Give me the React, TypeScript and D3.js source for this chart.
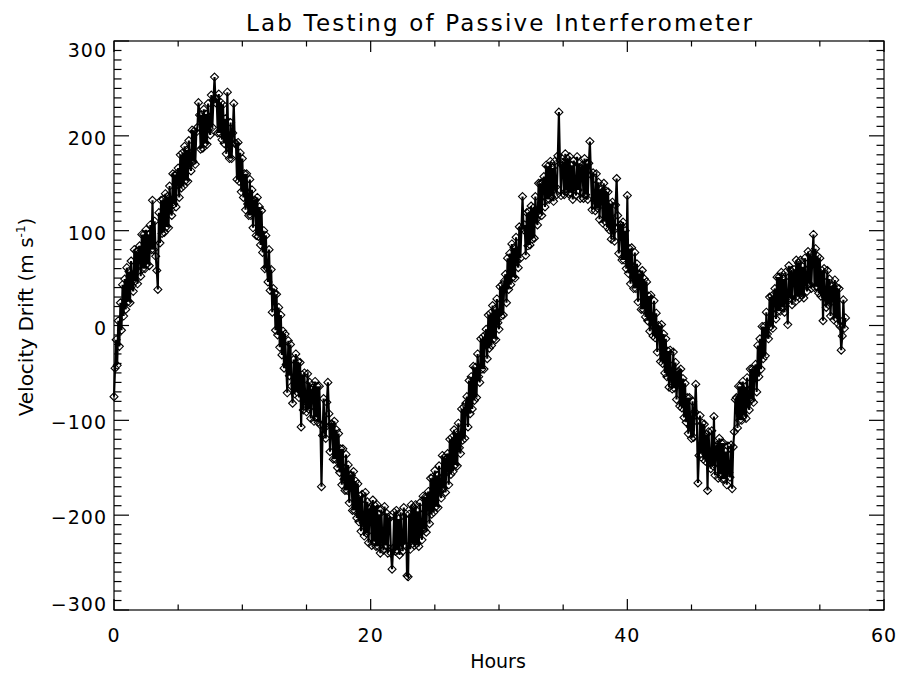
import React from "react";
import * as d3 from "d3";

const title = "Lab Testing of Passive Interferometer";
const xLabel = "Hours";
const yLabelMain = "Velocity Drift (m s";
const yLabelSup = "-1";
const xTickValues = [0, 20, 40, 60];
const yTickValues = [-300, -200, -100, 0, 100, 200, 300];
const startHour = 0;
const stepHours = 1 / 12;
const velocity = [
  -75, -45, -15, -42, 5, -22, 24, -5, 43, 10, 49, 17,
  61, 25, 57, 24, 68, 42, 36, 80, 47, 78, 44, 79,
  84, 52, 96, 60, 96, 60, 101, 65, 96, 63, 106, 80,
  132, 80, 110, 73, 58, 38, 119, 87, 132, 97, 133, 98,
  139, 104, 136, 103, 147, 122, 116, 160, 128, 159, 125, 160,
  166, 135, 180, 145, 182, 147, 189, 153, 185, 152, 195, 170,
  163, 206, 173, 205, 170, 204, 209, 235, 222, 186, 222, 187,
  228, 192, 223, 191, 234, 208, 201, 243, 209, 238, 262, 235,
  239, 203, 244, 203, 235, 196, 233, 192, 218, 181, 246, 188,
  176, 214, 176, 203, 234, 192, 192, 154, 193, 152, 182, 141,
  176, 135, 160, 122, 160, 128, 116, 154, 116, 143, 103, 132,
  132, 95, 135, 94, 125, 85, 121, 77, 100, 60, 95, 61,
  46, 80, 37, 59, 14, 39, 34, -5, 33, -10, 19, -23,
  11, -31, -6, -45, -9, -41, -71, -16, -53, -20, -64, -82,
  -36, -72, -30, -70, -38, -76, -39, -107, -52, -89, -50, -80,
  -91, -51, -88, -60, -98, -68, -66, -101, -59, -97, -64, -102,
  -64, -105, -170, -116, -77, -108, -119, -81, -60, -93, -133, -104,
  -104, -141, -101, -141, -110, -150, -114, -155, -130, -168, -130, -162,
  -174, -136, -174, -147, -187, -158, -158, -195, -154, -195, -164, -203,
  -167, -207, -180, -217, -178, -208, -222, -176, -219, -186, -229, -194,
  -192, -232, -184, -228, -190, -233, -189, -233, -199, -240, -194, -228,
  -237, -191, -232, -198, -240, -204, -201, -240, -257, -235, -197, -238,
  -195, -237, -204, -242, -197, -229, -238, -192, -231, -199, -264, -265,
  -199, -236, -189, -230, -192, -232, -189, -230, -196, -233, -187, -218,
  -226, -180, -215, -181, -218, -181, -175, -209, -161, -199, -160, -197,
  -153, -191, -158, -192, -148, -175, -182, -137, -172, -139, -176, -140,
  -135, -168, -120, -157, -118, -154, -110, -147, -113, -148, -103, -129,
  -135, -88, -121, -86, -119, -82, -75, -107, -58, -93, -54, -88,
  -43, -79, -44, -76, -30, -54, -60, -14, -46, -12, -46, -10,
  -4, -35, 11, -24, 13, -21, 21, -14, 17, -15, 28, 3,
  -4, 41, 10, 43, 11, 47, 54, 24, 71, 38, 76, 43,
  86, 51, 82, 50, 93, 68, 61, 104, 71, 102, 136, 101,
  106, 74, 119, 84, 120, 85, 126, 91, 124, 92, 136, 112,
  106, 150, 118, 150, 116, 151, 157, 125, 169, 133, 168, 133,
  173, 136, 166, 131, 173, 146, 138, 179, 225, 174, 137, 169,
  172, 138, 181, 142, 176, 139, 178, 140, 169, 133, 174, 146,
  137, 178, 143, 171, 134, 166, 169, 134, 176, 138, 171, 133,
  171, 194, 159, 122, 161, 132, 121, 160, 124, 151, 112, 143,
  144, 108, 150, 110, 142, 104, 141, 101, 128, 91, 130, 100,
  89, 127, 155, 116, 76, 106, 106, 69, 109, 69, 100, 60,
  137, 55, 81, 44, 82, 51, 39, 77, 39, 65, 25, 54,
  54, 17, 58, 17, 49, 9, 46, 5, 31, -6, 32, 1,
  -11, 26, -13, 13, -28, 0, -1, -38, 1, -40, -9, -50,
  -14, -54, -27, -65, -26, -56, -67, -28, -66, -39, -78, -49,
  -48, -85, -46, -87, -56, -97, -61, -102, -76, -114, -76, -107,
  -119, -80, -118, -91, -62, -101, -166, -137, -95, -135, -103, -141,
  -104, -143, -115, -174, -112, -141, -151, -111, -148, -96, -158, -128,
  -126, -161, -119, -157, -124, -162, -124, -162, -133, -168, -127, -155,
  -160, -126, -172, -128, -112, -78, -76, -108, -64, -100, -64, -100,
  -59, -95, -65, -98, -55, -82, -89, -46, -78, -46, -81, -47,
  -41, -70, -21, -54, -14, -46, -1, -35, -1, -32, 14, -9,
  -14, 30, -1, 31, -3, 33, 39, 7, 51, 15, 51, 15,
  56, 19, 49, 14, 56, 29, 1, 63, 29, 58, 22, 55,
  59, 25, 69, 31, 66, 29, 69, 32, 62, 29, 71, 44,
  36, 78, 44, 75, 39, 72, 96, 40, 81, 41, 73, 34,
  71, 31, 58, 5, 60, 30, 19, 58, 22, 49, 10, 41,
  42, 6, 48, 8, 40, 2, 39, -1, -26, -11, 27, -3,
  8,
];

const W = 902;
const H = 677;
const L = 114, R = 884, T = 41, B = 610;
const FONT = "'DejaVu Sans', sans-serif";

export default function App() {
  const x = d3.scaleLinear().domain([0, 60]).range([L, R]);
  const y = d3.scaleLinear().domain([-300, 300]).range([B, T]);
  const pts = velocity.map((v, i) => [startHour + i * stepHours, v] as [number, number]);
  const line = d3.line<[number, number]>().x((d) => x(d[0])).y((d) => y(d[1]));
  const xMinor = d3.range(0, 60.001, 5);
  const yMinor = d3.range(-300, 300.001, 10);
  const s = 4;
  const diamonds = pts
    .map((d) => {
      const px = x(d[0]);
      const py = y(d[1]);
      return `M${px},${py - s}L${px + s},${py}L${px},${py + s}L${px - s},${py}Z`;
    })
    .join("");
  const stroke = "#000";
  const ylabOffset = (v: number) => (v === 300 ? 8.5 : v === -300 ? -6 : 2);
  return (
    <svg width={W} height={H} style={{ position: "absolute", left: 0, top: 0, background: "#fff" }} fontFamily={FONT}>
      <rect x={0} y={0} width={W} height={H} fill="#fff" />
      <text x={499} y={31} textAnchor="middle" fontSize={23} textLength={506} lengthAdjust="spacing" fill="#000">
        {title}
      </text>
      <path d={line(pts) || ""} fill="none" stroke={stroke} strokeWidth={2.1} strokeLinejoin="miter" />
      <path d={diamonds} fill="none" stroke={stroke} strokeWidth={1.1} />
      <rect x={L} y={T} width={R - L} height={B - T} fill="none" stroke="#000" strokeWidth={1.2} />
      {xMinor.map((v) => {
        const major = v % 20 === 0;
        const len = major ? 11 : 5.5;
        return (
          <g key={"xt" + v}>
            <line x1={x(v)} x2={x(v)} y1={B} y2={B - len} stroke="#000" strokeWidth={1.2} />
            <line x1={x(v)} x2={x(v)} y1={T} y2={T + len} stroke="#000" strokeWidth={1.2} />
          </g>
        );
      })}
      {yMinor.map((v) => {
        const major = Math.round(v) % 100 === 0;
        const len = major ? 15 : 7.5;
        return (
          <g key={"yt" + v}>
            <line x1={L} x2={L + len} y1={y(v)} y2={y(v)} stroke="#000" strokeWidth={1.2} />
            <line x1={R} x2={R - len} y1={y(v)} y2={y(v)} stroke="#000" strokeWidth={1.2} />
          </g>
        );
      })}
      {xTickValues.map((v) => (
        <text key={"xl" + v} x={x(v)} y={642} textAnchor="middle" fontSize={19} letterSpacing={1} fill="#000">
          {String(v)}
        </text>
      ))}
      {yTickValues.map((v) => (
        <text key={"yl" + v} x={107} y={y(v) + ylabOffset(v) + 7} textAnchor="end" fontSize={19} letterSpacing={1} fill="#000">
          {v < 0 ? "\u2212" + Math.abs(v) : String(v)}
        </text>
      ))}
      <text x={498} y={668} textAnchor="middle" fontSize={19} fill="#000">
        {xLabel}
      </text>
      <text transform={`translate(33,317) rotate(-90)`} textAnchor="middle" fontSize={20} fill="#000">
        {yLabelMain}
        <tspan fontSize={12} dy={-8}>{yLabelSup}</tspan>
        <tspan dy={8}>)</tspan>
      </text>
    </svg>
  );
}
